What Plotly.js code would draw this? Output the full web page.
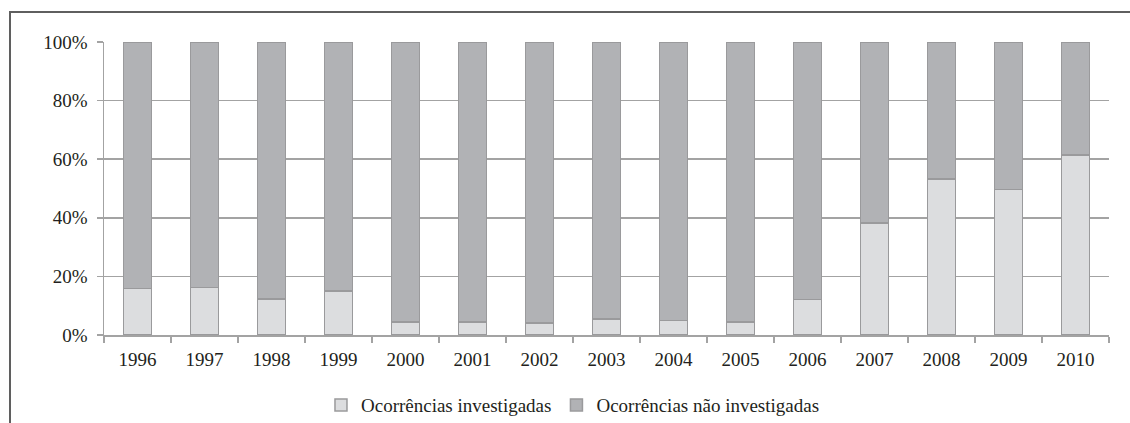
<!DOCTYPE html>
<html>
<head>
<meta charset="utf-8">
<script src="https://cdn.plot.ly/plotly-3.0.1.min.js"></script>
<style>
  html, body { margin: 0; padding: 0; background: #fff; }
  #wrap { position: relative; width: 1130px; height: 423px; overflow: hidden; }
  #frame { position: absolute; left: 9px; top: 11px; width: 1200px; height: 500px;
           border-top: 2px solid #5f5f5f; border-left: 2px solid #5f5f5f; pointer-events: none; }
  #chart { position: absolute; left: 0; top: 0; width: 1130px; height: 423px; }
</style>
</head>
<body>
<div id="wrap">
  <div id="chart"></div>
  <div id="frame"></div>
</div>
<script>
const years = ['1996','1997','1998','1999','2000','2001','2002','2003','2004','2005','2006','2007','2008','2009','2010'];
const investigadas = [15.8, 16.2, 12.3, 15.0, 4.4, 4.4, 4.1, 5.5, 5.0, 4.5, 12.2, 38.2, 53.2, 49.7, 61.5];
const naoInvestigadas = investigadas.map(v => 100 - v);
const yTicks = [0, 20, 40, 60, 80, 100];
const yTickText = ['0%', '20%', '40%', '60%', '80%', '100%'];

const fam = 'Liberation Serif, Times New Roman, DejaVu Serif, serif';
const txt = '#231f20';

const traces = [
  {
    type: 'bar', name: 'Ocorrências investigadas', x: years, y: investigadas,
    marker: { color: '#dcdddf', line: { color: '#9a9a9c', width: 1.5 } },
    width: 0.42
  },
  {
    type: 'bar', name: 'Ocorrências não investigadas', x: years, y: naoInvestigadas,
    marker: { color: '#b1b2b5', line: { color: '#9a9a9c', width: 1.5 } },
    width: 0.42
  }
];

const layout = {
  width: 1130, height: 423,
  margin: { l: 104, r: 21, t: 42, b: 88, autoexpand: false },
  barmode: 'stack',
  paper_bgcolor: '#fff', plot_bgcolor: '#fff',
  font: { family: fam, size: 19, color: txt },
  showlegend: true,
  legend: {
    orientation: 'h', x: 0.2159, xanchor: 'left', y: -0.239, yanchor: 'middle',
    font: { family: fam, size: 19, color: txt },
    traceorder: 'normal'
  },
  xaxis: {
    type: 'category', tickson: 'boundaries', ticks: 'outside', ticklen: 6,
    tickcolor: '#a3a3a3', tickwidth: 1.5, ticklabelstandoff: 7,
    showline: true, linecolor: '#a3a3a3', linewidth: 1.5,
    showgrid: false, zeroline: false, fixedrange: true, automargin: false,
    tickfont: { family: fam, size: 19, color: txt }
  },
  yaxis: {
    range: [0, 100], tickvals: yTicks, ticktext: yTickText,
    ticks: 'outside', ticklen: 6, tickcolor: '#a3a3a3', tickwidth: 1.5, ticklabelstandoff: 5,
    showline: true, linecolor: '#a3a3a3', linewidth: 1.5,
    showgrid: true, gridcolor: '#a3a3a3', gridwidth: 1.5, zeroline: false,
    fixedrange: true, automargin: false,
    tickfont: { family: fam, size: 19, color: txt }
  }
};

Plotly.newPlot('chart', traces, layout, { displayModeBar: false, staticPlot: true });
</script>
</body>
</html>
